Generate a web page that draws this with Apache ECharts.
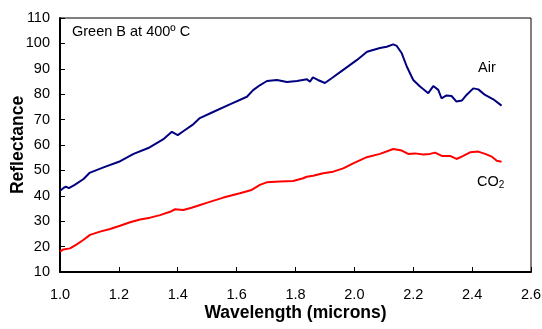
<!DOCTYPE html>
<html><head><meta charset="utf-8">
<script src="https://cdn.jsdelivr.net/npm/echarts@6/dist/echarts.min.js"></script>
<style>html,body{margin:0;padding:0;background:#fff}#c{width:542px;height:329px}</style>
</head><body><div id="c"></div>
<script>
const airWave = [1.0,1.011,1.02,1.03,1.05,1.08,1.1,1.15,1.2,1.25,1.3,1.35,1.38,1.4,1.42,1.45,1.475,1.52,1.577,1.635,1.656,1.68,1.703,1.737,1.771,1.805,1.839,1.849,1.859,1.876,1.9,1.924,1.961,2.009,2.043,2.087,2.11,2.132,2.144,2.161,2.178,2.2,2.223,2.251,2.268,2.285,2.296,2.313,2.33,2.347,2.365,2.381,2.404,2.421,2.444,2.472,2.5];
const airVals = [42.0,43.0,43.6,43.0,44.3,46.6,49.0,51.3,53.4,56.5,58.8,62.2,65.2,63.9,65.5,67.9,70.6,73.0,76.0,79.0,81.6,83.6,85.2,85.6,84.8,85.2,85.9,84.9,86.6,85.6,84.4,86.4,89.5,93.5,96.7,98.2,98.7,99.6,99.0,96.1,90.9,85.6,83.0,80.4,83.2,81.7,78.4,79.5,79.3,77.1,77.5,79.7,82.3,81.9,79.7,78.0,75.5];
const co2Wave = [1.0,1.011,1.034,1.057,1.079,1.102,1.136,1.17,1.204,1.238,1.272,1.306,1.34,1.374,1.391,1.419,1.447,1.476,1.498,1.555,1.611,1.651,1.679,1.702,1.747,1.792,1.826,1.838,1.86,1.894,1.928,1.962,1.996,2.042,2.087,2.132,2.161,2.183,2.206,2.234,2.257,2.274,2.297,2.325,2.347,2.37,2.393,2.421,2.444,2.467,2.484,2.5];
const co2Vals = [18.0,18.9,19.3,20.9,22.6,24.6,25.9,26.9,28.2,29.6,30.7,31.4,32.4,33.7,34.7,34.4,35.3,36.4,37.2,39.3,41.0,42.3,44.3,45.3,45.6,45.8,46.9,47.5,47.9,48.9,49.5,50.8,52.8,55.2,56.5,58.4,57.8,56.5,56.7,56.3,56.5,57.0,55.7,55.7,54.5,55.7,57.1,57.4,56.5,55.4,53.8,53.4];
const xTicks = {min:1.0, max:2.6, step:0.2};
const yTicks = {min:10, max:110, step:10};
const chartTitle = 'Green B at 400º C';
const seriesNames = ['Air', 'CO2'];

const pair = (w, v) => w.map((x, i) => [x, v[i]]);
const chart = echarts.init(document.getElementById('c'));
const fam = 'Liberation Sans, Arial, sans-serif';
const fs = 14.5;
chart.setOption({
  animation: false,
  grid: {left: 60, top: 18, right: 11, bottom: 57, containLabel: false, outerBoundsMode: 'none',
         show: true, borderColor: '#000', borderWidth: 1},
  xAxis: {
    type: 'value', min: xTicks.min, max: xTicks.max, interval: xTicks.step,
    name: 'Wavelength (microns)', nameLocation: 'middle', nameGap: 32.5, nameMoveOverlap: false,
    nameTextStyle: {fontFamily: fam, fontWeight: 'bold', fontSize: 17.5, color: '#000'},
    axisLine: {lineStyle: {color: '#000', width: 2}},
    axisTick: {inside: true, length: 5, lineStyle: {color: '#000', width: 1}},
    axisLabel: {fontFamily: fam, fontSize: fs, color: '#000', margin: 15, formatter: v => v.toFixed(1)},
    splitLine: {show: false}
  },
  yAxis: {
    type: 'value', min: yTicks.min, max: yTicks.max, interval: yTicks.step,
    name: 'Reflectance', nameLocation: 'middle', nameGap: 33, nameMoveOverlap: false,
    nameTextStyle: {fontFamily: fam, fontWeight: 'bold', fontSize: 17.5, color: '#000'},
    axisLine: {show: true, lineStyle: {color: '#000', width: 2}},
    axisTick: {show: true, inside: true, length: 5, lineStyle: {color: '#000', width: 1}},
    axisLabel: {fontFamily: fam, fontSize: fs, color: '#000', margin: 10},
    splitLine: {show: false}
  },
  series: [
    {name: seriesNames[0], type: 'line', data: pair(airWave, airVals), showSymbol: false, symbol: 'none',
     lineStyle: {color: '#000080', width: 2}, smooth: false},
    {name: seriesNames[1], type: 'line', data: pair(co2Wave, co2Vals), showSymbol: false, symbol: 'none',
     lineStyle: {color: '#ff0000', width: 2}, smooth: false}
  ],
  graphic: [
    {type: 'text', left: 72, top: 24, style: {text: chartTitle, font: fs + 'px ' + fam, fill: '#000'}},
    {type: 'text', left: 478, top: 60, style: {text: 'Air', font: fs + 'px ' + fam, fill: '#000'}},
    {type: 'text', left: 477, top: 174, style: {text: '{a|CO}{b|2}', rich: {
      a: {fontFamily: fam, fontSize: fs, fill: '#000', color: '#000'},
      b: {fontFamily: fam, fontSize: 10, fill: '#000', color: '#000', verticalAlign: 'bottom', padding: [7, 0, 0, 0]}
    }}}
  ]
});
</script></body></html>
